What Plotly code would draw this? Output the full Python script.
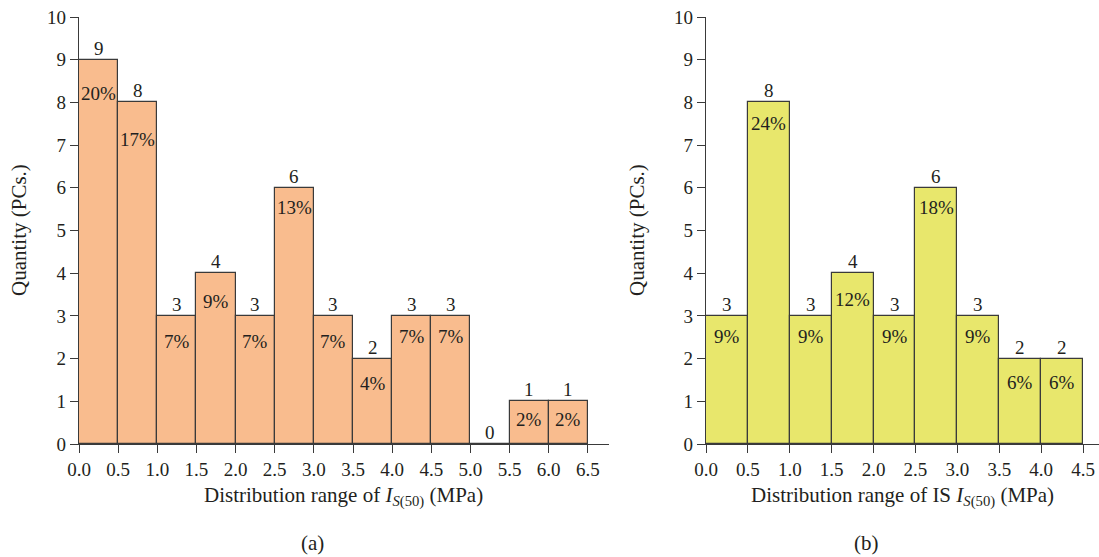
import plotly.graph_objects as go

# ---- data ----
bins_a = [0.0, 0.5, 1.0, 1.5, 2.0, 2.5, 3.0, 3.5, 4.0, 4.5, 5.0, 5.5, 6.0]
counts_a = [9, 8, 3, 4, 3, 6, 3, 2, 3, 3, 0, 1, 1]
pct_a = ["20%", "17%", "7%", "9%", "7%", "13%", "7%", "4%", "7%", "7%", "", "2%", "2%"]

bins_b = [0.0, 0.5, 1.0, 1.5, 2.0, 2.5, 3.0, 3.5, 4.0]
counts_b = [3, 8, 3, 4, 3, 6, 3, 2, 2]
pct_b = ["9%", "24%", "9%", "12%", "9%", "18%", "9%", "6%", "6%"]

ticks_a = [0.0, 0.5, 1.0, 1.5, 2.0, 2.5, 3.0, 3.5, 4.0, 4.5, 5.0, 5.5, 6.0, 6.5]
ticks_b = [0.0, 0.5, 1.0, 1.5, 2.0, 2.5, 3.0, 3.5, 4.0, 4.5]
y_ticks = list(range(0, 11))

# ---- styling ----
BIN_W = 0.5
FONT = "Liberation Serif"
TXT = "#231f20"
LINE = "#3a3a3a"
LBL = 19
# pixel shift of percentage labels below bar tops (label layout only)
pct_shift_a = [-34, -37, -26, -28, -26, -20, -26, -25, -21, -21, 0, -18, -18]
pct_shift_b = [-21, -21, -21, -26, -21, -20, -21, -24, -24]

fig = go.Figure()

fig.add_trace(go.Bar(x=bins_a, y=counts_a, width=BIN_W, offset=0,
                     marker=dict(color="#F9BC8E", line=dict(color=LINE, width=1.2)),
                     xaxis="x", yaxis="y", showlegend=False, hoverinfo="skip"))
fig.add_trace(go.Bar(x=bins_b, y=counts_b, width=BIN_W, offset=0,
                     marker=dict(color="#E8E76C", line=dict(color=LINE, width=1.2)),
                     xaxis="x2", yaxis="y2", showlegend=False, hoverinfo="skip"))

annotations = []
def add_labels(bins, counts, pcts, shifts, xr, yr):
    for b, c, p, s in zip(bins, counts, pcts, shifts):
        annotations.append(dict(x=b + BIN_W / 2, y=c, xref=xr, yref=yr, text=str(c),
                                showarrow=False, yanchor="bottom", yshift=-1,
                                font=dict(family=FONT, size=LBL, color=TXT)))
        if p:
            annotations.append(dict(x=b + BIN_W / 2, y=c, xref=xr, yref=yr, text=p,
                                    showarrow=False, yanchor="middle", yshift=s,
                                    font=dict(family=FONT, size=LBL, color=TXT)))

add_labels(bins_a, counts_a, pct_a, pct_shift_a, "x", "y")
add_labels(bins_b, counts_b, pct_b, pct_shift_b, "x2", "y2")

# axis titles and panel labels
title_font = dict(family=FONT, size=21, color=TXT)
annotations += [
    dict(x=343 / 1099, y=(444 - 497) / 427, xref="paper", yref="paper",
         text="Distribution range of <i>I</i><sub><i>S</i>(50)</sub> (MPa)",
         showarrow=False, xanchor="center", yanchor="middle", font=title_font),
    dict(x=902 / 1099, y=(444 - 497) / 427, xref="paper", yref="paper",
         text="Distribution range of IS <i>I</i><sub><i>S</i>(50)</sub> (MPa)",
         showarrow=False, xanchor="center", yanchor="middle", font=title_font),
    dict(x=19 / 1099, y=(444 - 230) / 427, xref="paper", yref="paper",
         text="Quantity (PCs.)", textangle=-90, showarrow=False,
         xanchor="center", yanchor="middle", font=title_font),
    dict(x=637 / 1099, y=(444 - 230) / 427, xref="paper", yref="paper",
         text="Quantity (PCs.)", textangle=-90, showarrow=False,
         xanchor="center", yanchor="middle", font=title_font),
    dict(x=312 / 1099, y=(444 - 543) / 427, xref="paper", yref="paper",
         text="(a)", showarrow=False, xanchor="center", yanchor="middle", font=title_font),
    dict(x=866 / 1099, y=(444 - 543) / 427, xref="paper", yref="paper",
         text="(b)", showarrow=False, xanchor="center", yanchor="middle", font=title_font),
]

tick_font = dict(family=FONT, size=19, color=TXT)
xcommon = dict(showline=True, linecolor=LINE, linewidth=1.2, ticks="outside",
               ticklen=8, tickcolor=LINE, tickwidth=1.2, showgrid=False,
               zeroline=False, tickformat=".1f", tickfont=tick_font, automargin=False)
ycommon = dict(showline=True, linecolor=LINE, linewidth=1.2, ticks="outside",
               ticklen=8, tickcolor=LINE, tickwidth=1.2, showgrid=False,
               zeroline=False, range=[0, 10], tickvals=y_ticks, tickfont=tick_font,
               automargin=False)

fig.update_layout(
    width=1099, height=557,
    margin=dict(l=0, r=0, t=17, b=113, autoexpand=False),
    paper_bgcolor="white", plot_bgcolor="white",
    bargap=0,
    xaxis=dict(domain=[79 / 1099, 609 / 1099], range=[0, 6.77], tickvals=ticks_a,
               anchor="y", **xcommon),
    yaxis=dict(domain=[0, 1], anchor="x", **ycommon),
    xaxis2=dict(domain=[706 / 1099, 1.0], range=[0, 4.69], tickvals=ticks_b,
                anchor="y2", **xcommon),
    yaxis2=dict(domain=[0, 1], anchor="x2", **ycommon),
    annotations=annotations,
)

fig.write_html("out.html")
